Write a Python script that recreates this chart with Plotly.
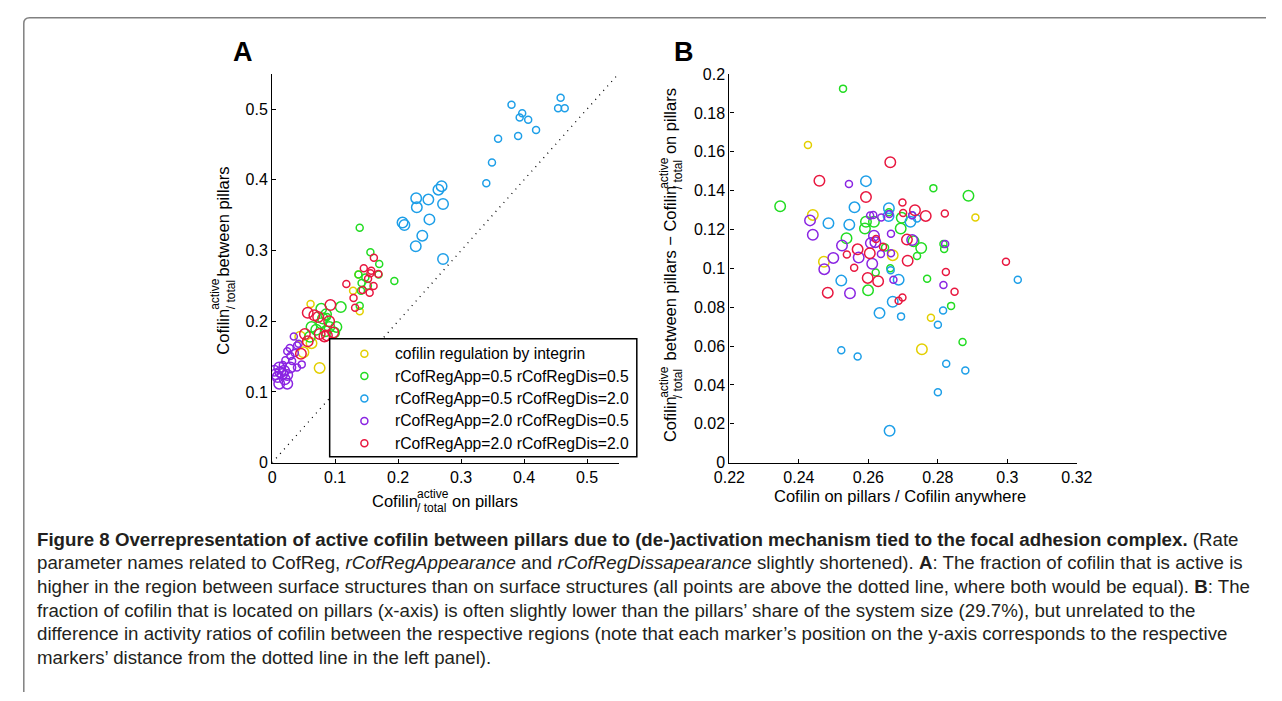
import plotly.graph_objects as go

W, H = 1282, 701
def PX(x): return x / W
def PY(y): return 1 - y / H

# ---------------- data: panel A (x = active/total on pillars, y = active/total between pillars)
yellow_A_small_x = [0.061, 0.1285, 0.137, 0.139]
yellow_A_small_y = [0.2245, 0.243, 0.266, 0.214]
yellow_A_large_x = [0.0754, 0.0497, 0.0625, 0.0446]
yellow_A_large_y = [0.134, 0.156, 0.169, 0.178]

green_A_small_x = [0.139, 0.156, 0.170, 0.194, 0.169, 0.137, 0.142, 0.152, 0.141, 0.139, 0.087, 0.148]
green_A_small_y = [0.332, 0.2975, 0.281, 0.257, 0.266, 0.266, 0.254, 0.250, 0.243, 0.222, 0.206, 0.262]
green_A_large_x = [0.109, 0.078, 0.0856, 0.0625, 0.102, 0.078, 0.060, 0.0985, 0.0805, 0.0908, 0.070, 0.085]
green_A_large_y = [0.220, 0.2175, 0.2097, 0.192, 0.192, 0.197, 0.178, 0.184, 0.2037, 0.192, 0.188, 0.186]

blue_A_small_x = [0.380, 0.458, 0.454, 0.4645, 0.397, 0.393, 0.4065, 0.419, 0.3905, 0.3587, 0.349, 0.340]
blue_A_small_y = [0.506, 0.516, 0.501, 0.501, 0.494, 0.488, 0.485, 0.4705, 0.462, 0.458, 0.4245, 0.395]
blue_A_large_x = [0.2287, 0.248, 0.2297, 0.264, 0.269, 0.2713, 0.2497, 0.207, 0.210, 0.2384, 0.228, 0.2713]
blue_A_large_y = [0.374, 0.372, 0.361, 0.386, 0.391, 0.3657, 0.344, 0.3395, 0.336, 0.321, 0.306, 0.288]

purple_A_small_x = [0.0344, 0.0396, 0.042, 0.024, 0.029, 0.0317, 0.047, 0.0394, 0.021, 0.036, 0.028, 0.017]
purple_A_small_y = [0.1785, 0.1656, 0.168, 0.1577, 0.151, 0.1439, 0.139, 0.1347, 0.145, 0.155, 0.162, 0.138]
purple_A_large_x = [0.029, 0.0112, 0.0035, 0.0163, 0.024, 0.0086, 0.0112, 0.024, 0.019, 0.013, 0.006, 0.020]
purple_A_large_y = [0.1347, 0.1347, 0.130, 0.1255, 0.124, 0.121, 0.1117, 0.1117, 0.130, 0.128, 0.125, 0.118]

red_A_small_x = [0.1615, 0.1455, 0.1574, 0.156, 0.1686, 0.1523, 0.161, 0.1178, 0.1435, 0.1548, 0.1292, 0.1317]
red_A_small_y = [0.2897, 0.275, 0.2713, 0.268, 0.2667, 0.2602, 0.2497, 0.2528, 0.2441, 0.2404, 0.2327, 0.2189]
red_A_large_x = [0.0925, 0.0565, 0.067, 0.073, 0.0905, 0.0755, 0.083, 0.097, 0.052, 0.0565, 0.0457, 0.087]
red_A_large_y = [0.223, 0.212, 0.2084, 0.206, 0.200, 0.182, 0.1785, 0.184, 0.182, 0.1716, 0.154, 0.180]

# ---------------- data: panel B (x = cofilin on pillars / anywhere, y = difference of active ratios)
yellow_B_small_x = [0.2426, 0.2908, 0.278]
yellow_B_small_y = [0.1635, 0.1262, 0.0746]
yellow_B_large_x = [0.244, 0.2472, 0.267, 0.2754]
yellow_B_large_y = [0.1275, 0.1034, 0.1068, 0.0584]

green_B_small_x = [0.2527, 0.2787, 0.274, 0.2816, 0.2818, 0.2648, 0.2663, 0.2621, 0.2769, 0.2838, 0.2871, 0.2659]
green_B_small_y = [0.1925, 0.1413, 0.1064, 0.1125, 0.110, 0.1108, 0.1001, 0.0979, 0.0947, 0.0807, 0.0621, 0.1289]
green_B_large_x = [0.2888, 0.2346, 0.2593, 0.2616, 0.259, 0.2693, 0.2696, 0.2537, 0.2752, 0.2599, 0.273]
green_B_large_y = [0.1374, 0.132, 0.124, 0.124, 0.1205, 0.1205, 0.126, 0.1155, 0.1105, 0.0887, 0.114]

blue_B_small_x = [0.274, 0.2726, 0.2694, 0.2815, 0.280, 0.2522, 0.2569, 0.2824, 0.2879, 0.280, 0.303, 0.2664]
blue_B_small_y = [0.1257, 0.1274, 0.0753, 0.0783, 0.071, 0.0579, 0.0546, 0.0509, 0.0474, 0.0363, 0.0941, 0.0991]
blue_B_large_x = [0.2593, 0.256, 0.2659, 0.2658, 0.2485, 0.2545, 0.2721, 0.2522, 0.2687, 0.267, 0.2632, 0.2661]
blue_B_large_y = [0.1449, 0.1314, 0.131, 0.1269, 0.1232, 0.1225, 0.124, 0.0937, 0.0942, 0.0828, 0.077, 0.0164]

purple_B_small_x = [0.2544, 0.2605, 0.2614, 0.2637, 0.2665, 0.2636, 0.2665, 0.2672, 0.2816, 0.2821, 0.2726, 0.266]
purple_B_small_y = [0.1434, 0.1272, 0.1275, 0.1262, 0.1178, 0.1074, 0.1078, 0.0942, 0.0915, 0.1126, 0.1274, 0.128]
purple_B_large_x = [0.2432, 0.244, 0.2499, 0.2473, 0.2547, 0.2524, 0.2572, 0.2611, 0.2607, 0.2616, 0.262, 0.2726]
purple_B_large_y = [0.1247, 0.1173, 0.1054, 0.0996, 0.0872, 0.1118, 0.1056, 0.1024, 0.113, 0.1168, 0.1135, 0.1146]

red_B_small_x = [0.2698, 0.270, 0.282, 0.2538, 0.2559, 0.2622, 0.2642, 0.2823, 0.2848, 0.2698, 0.2687, 0.2996]
red_B_small_y = [0.1339, 0.1285, 0.1282, 0.1071, 0.1003, 0.1151, 0.1111, 0.0981, 0.088, 0.085, 0.0833, 0.1034]
red_B_large_x = [0.2663, 0.2459, 0.2593, 0.2734, 0.2765, 0.2711, 0.2569, 0.2604, 0.2713, 0.2598, 0.2628, 0.2483]
red_B_large_y = [0.1546, 0.1451, 0.1367, 0.1299, 0.127, 0.1148, 0.1098, 0.1078, 0.1039, 0.0951, 0.0934, 0.0875]

series_names = ["cofilin regulation by integrin",
                "rCofRegApp=0.5 rCofRegDis=0.5",
                "rCofRegApp=0.5 rCofRegDis=2.0",
                "rCofRegApp=2.0 rCofRegDis=0.5",
                "rCofRegApp=2.0 rCofRegDis=2.0"]
series_colors = ["#e3cf00", "#22dc22", "#1e9fe8", "#8a25e2", "#e8173f"]

A_ticks = [0, 0.1, 0.2, 0.3, 0.4, 0.5]
A_ticktext = ["0", "0.1", "0.2", "0.3", "0.4", "0.5"]
B_xticks = [0.22, 0.24, 0.26, 0.28, 0.30, 0.32]
B_xticktext = ["0.22", "0.24", "0.26", "0.28", "0.3", "0.32"]
B_yticks = [0, 0.02, 0.04, 0.06, 0.08, 0.10, 0.12, 0.14, 0.16, 0.18, 0.20]
B_yticktext = ["0", "0.02", "0.04", "0.06", "0.08", "0.1", "0.12", "0.14", "0.16", "0.18", "0.2"]
diag_line = [0, 0.55]

caption_lines = [
    "<b>Figure 8 Overrepresentation of active cofilin between pillars due to (de-)activation mechanism tied to the focal adhesion complex.</b> (Rate",
    "parameter names related to CofReg, <i>rCofRegAppearance</i> and <i>rCofRegDissapearance</i> slightly shortened). <b>A</b>: The fraction of cofilin that is active is",
    "higher in the region between surface structures than on surface structures (all points are above the dotted line, where both would be equal). <b>B</b>: The",
    "fraction of cofilin that is located on pillars (x-axis) is often slightly lower than the pillars’ share of the system size (29.7%), but unrelated to the",
    "difference in activity ratios of cofilin between the respective regions (note that each marker’s position on the y-axis corresponds to the respective",
    "markers’ distance from the dotted line in the left panel).",
]

A_data = [
    (yellow_A_small_x, yellow_A_small_y, yellow_A_large_x, yellow_A_large_y),
    (green_A_small_x, green_A_small_y, green_A_large_x, green_A_large_y),
    (blue_A_small_x, blue_A_small_y, blue_A_large_x, blue_A_large_y),
    (purple_A_small_x, purple_A_small_y, purple_A_large_x, purple_A_large_y),
    (red_A_small_x, red_A_small_y, red_A_large_x, red_A_large_y),
]
B_data = [
    (yellow_B_small_x, yellow_B_small_y, yellow_B_large_x, yellow_B_large_y),
    (green_B_small_x, green_B_small_y, green_B_large_x, green_B_large_y),
    (blue_B_small_x, blue_B_small_y, blue_B_large_x, blue_B_large_y),
    (purple_B_small_x, purple_B_small_y, purple_B_large_x, purple_B_large_y),
    (red_B_small_x, red_B_small_y, red_B_large_x, red_B_large_y),
]

FONT = "Liberation Sans, Arial, Helvetica, sans-serif"
SMALL, LARGE, LW = 7, 10.5, 1.5

fig = go.Figure()

# dotted identity line in panel A
fig.add_trace(go.Scatter(x=diag_line, y=diag_line, mode="lines", xaxis="x", yaxis="y",
                         line=dict(color="black", width=1.3, dash="1px,5px"),
                         showlegend=False, hoverinfo="skip"))

for (name, color, a, b) in zip(series_names, series_colors, A_data, B_data):
    for (xs, ys, xl, yl), ax, ay in ((a, "x", "y"), (b, "x2", "y2")):
        fig.add_trace(go.Scatter(x=xl, y=yl, mode="markers", xaxis=ax, yaxis=ay, name=name,
                                 marker=dict(symbol="circle-open", size=LARGE, color=color,
                                             line=dict(width=LW, color=color)),
                                 showlegend=False))
        fig.add_trace(go.Scatter(x=xs, y=ys, mode="markers", xaxis=ax, yaxis=ay, name=name,
                                 marker=dict(symbol="circle-open", size=SMALL, color=color,
                                             line=dict(width=LW, color=color)),
                                 showlegend=False))

axis_common = dict(showline=True, linecolor="black", linewidth=1.3, showgrid=False, zeroline=False,
                   ticks="inside", ticklen=4, tickwidth=1, tickcolor="black",
                   tickfont=dict(family=FONT, size=16, color="black"), mirror=False, fixedrange=True)

fig.update_layout(
    width=W, height=H, autosize=False,
    margin=dict(l=0, r=0, t=0, b=0),
    paper_bgcolor="white", plot_bgcolor="white",
    showlegend=False,
    xaxis=dict(domain=[PX(262.7), PX(618)], range=[0, 0.55], tickmode="array",
               tickvals=A_ticks, ticktext=A_ticktext, anchor="y", **axis_common),
    yaxis=dict(domain=[PY(466), PY(67.3)], range=[0, 0.55], tickmode="array",
               tickvals=A_ticks, ticktext=A_ticktext, anchor="x", **axis_common),
    xaxis2=dict(domain=[PX(731.7), PX(1088)], range=[0.22, 0.32], tickmode="array",
                tickvals=B_xticks, ticktext=B_xticktext, anchor="y2", **axis_common),
    yaxis2=dict(domain=[PY(466), PY(67.7)], range=[0, 0.2], tickmode="array",
                tickvals=B_yticks, ticktext=B_yticktext, anchor="x2", **axis_common),
)

shapes = []
annotations = []

# outer rounded border of the figure panel (kept inside the page)
shapes.append(dict(type="path", xref="paper", yref="paper", layer="below",
                   path=f"M {PX(8)},{PY(701)} L {PX(8)},{PY(16)} Q {PX(8)},{PY(10)} {PX(14)},{PY(10)} L {PX(1282)},{PY(10)}",
                   line=dict(color="#808080", width=1.5)))

# legend box (panel A)
shapes.append(dict(type="rect", xref="paper", yref="paper", layer="above",
                   x0=PX(321.7), x1=PX(636.7), y0=PY(460), y1=PY(339),
                   line=dict(color="black", width=1.5), fillcolor="white"))
legend_rows = [354.3, 377.2, 400.2, 423.2, 446.0]
for name, color, ry in zip(series_names, series_colors, legend_rows):
    shapes.append(dict(type="circle", xref="paper", yref="paper", layer="above",
                       xsizemode="pixel", ysizemode="pixel",
                       xanchor=PX(357.3), yanchor=PY(ry), x0=-3.5, x1=3.5, y0=-3.5, y1=3.5,
                       line=dict(color=color, width=1.5)))
    annotations.append(dict(text=name, xref="paper", yref="paper", x=PX(386.5), y=PY(ry),
                            xanchor="left", yanchor="middle", showarrow=False,
                            font=dict(family=FONT, size=15.7, color="black")))

# panel letters
annotations.append(dict(text="<b>A</b>", xref="paper", yref="paper", x=PX(233), y=PY(45),
                        xanchor="center", yanchor="middle", showarrow=False,
                        font=dict(family=FONT, size=27, color="black")))
annotations.append(dict(text="<b>B</b>", xref="paper", yref="paper", x=PX(685), y=PY(45),
                        xanchor="center", yanchor="middle", showarrow=False,
                        font=dict(family=FONT, size=27, color="black")))

MAIN, SUB = 16.5, 12

def htext(t, x, y, size, anchor="left"):
    annotations.append(dict(text=t, xref="paper", yref="paper", x=PX(x), y=PY(y),
                            xanchor=anchor, yanchor="middle", showarrow=False,
                            font=dict(family=FONT, size=size, color="black")))

def vtext(t, x, ystart, size):
    annotations.append(dict(text=t, xref="paper", yref="paper", x=PX(x), y=PY(ystart),
                            xanchor="center", yanchor="bottom", showarrow=False, textangle=-90,
                            font=dict(family=FONT, size=size, color="black")))

# panel A x title: Cofilin^{active}_{/ total} on pillars
htext("Cofilin", 363.5, 505.3, MAIN)
htext("active", 409.5, 498.4, SUB)
htext("/ total", 409.5, 512.6, SUB)
htext("on pillars", 445.0, 505.3, MAIN)

# panel A y title
vtext("Cofilin", 212.6, 357, MAIN)
vtext("active", 204.5, 311, SUB)
vtext("/ total", 220.7, 311, SUB)
vtext("between pillars", 212.6, 277, MAIN)

# panel B x title
htext("Cofilin on pillars / Cofilin anywhere", 906.5, 500.3, MAIN, anchor="center")

# panel B y title
vtext("Cofilin", 671.0, 446.7, MAIN)
vtext("active", 664.5, 401.7, SUB)
vtext("/ total", 679.7, 401.7, SUB)
vtext("between pillars − Cofilin", 671.0, 363.5, MAIN)
vtext("active", 664.5, 187.5, SUB)
vtext("/ total", 679.7, 187.5, SUB)
vtext("on pillars", 671.0, 151.5, MAIN)

# caption
cap_y = [544.5, 568.7, 592.9, 617.1, 641.3, 665.5]
for line, cy in zip(caption_lines, cap_y):
    annotations.append(dict(text=line, xref="paper", yref="paper", x=PX(19.5), y=PY(cy),
                            xanchor="left", yanchor="middle", showarrow=False,
                            font=dict(family=FONT, size=18.7, color="#231f20")))

fig.update_layout(shapes=shapes, annotations=annotations)
fig.write_html("out.html",
               config={"displayModeBar": False},
               post_script="document.body.style.margin='0';document.body.style.padding='0';"
                           "document.body.style.overflow='hidden';"
                           "document.documentElement.style.overflow='hidden';")
